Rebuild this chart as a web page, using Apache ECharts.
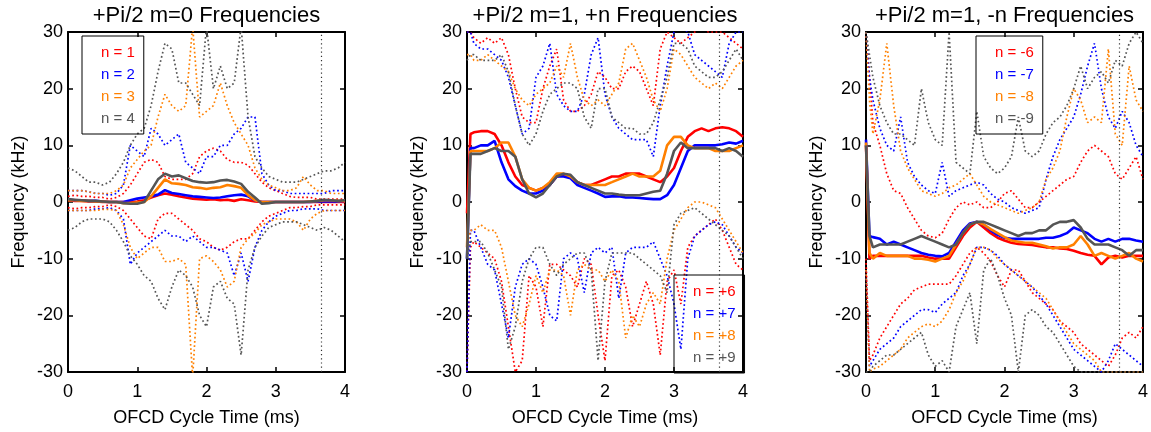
<!DOCTYPE html>
<html><head><meta charset="utf-8">
<script src="https://cdn.jsdelivr.net/npm/echarts@6/dist/echarts.min.js"></script>
<style>html,body{margin:0;padding:0;background:#fff}#c{width:1151px;height:432px}</style>
</head><body><div id="c"></div>
<script>
// ---------- DATA ----------
const timeA = [0,0.1,0.2,0.3,0.4,0.5,0.6,0.7,0.8,0.9,1.0,1.1,1.2,1.3,1.4,1.5,1.6,1.7,1.8,1.9,2.0,2.1,2.2,2.3,2.4,2.5,2.6,2.7,2.8,2.9,3.0,3.1,3.2,3.3,3.4,3.5,3.6,3.7,3.8,3.9,4.0];
const timeB = [0,0.05,0.1,0.2,0.3,0.4,0.5,0.6,0.7,0.8,0.9,1.0,1.1,1.2,1.3,1.4,1.5,1.6,1.7,1.8,1.9,2.0,2.1,2.2,2.3,2.4,2.5,2.6,2.7,2.8,2.9,3.0,3.1,3.2,3.3,3.4,3.5,3.6,3.7,3.8,3.9,4.0];
const markerTime = 3.65;
const xTicks = [0,1,2,3,4];
const yTicks = [-30,-20,-10,0,10,20,30];

const titles = ['+Pi/2 m=0 Frequencies', '+Pi/2 m=1, +n Frequencies', '+Pi/2 m=1, -n Frequencies'];
const names1 = ['n = 1','n = 2','n = 3','n = 4'];
const names2 = ['n = +6','n = +7','n = +8','n = +9'];
const names3 = ['n = -6','n = -7','n = -8','n = -9'];

// Panel 1 (m=0)
const p1_n1 = [0.3,0.2,0.2,0.1,0.1,0,0,0,0,0, 0.1,0.3,0.8,1.2,1.5,1.3,1.0,0.8,0.6,0.5, 0.4,0.5,0.3,0.4,0.2,0.5,0.3,0.1,0,0, 0,0,0,0,0,0,0,0,0,0, 0];
const p1_n2 = [0.4,0.3,0.3,0.2,0.2,0.1,0,0,0,0.3, 0.6,0.8,1.0,1.3,2.1,1.6,1.4,1.2,1.0,0.9, 0.8,0.7,0.8,1.0,1.2,1.3,1.0,0.3,0,0, 0,0,0,0,0,0,0.1,0.1,0.1,0.1, 0.2];
const p1_n3 = [0.3,0.3,0.2,0.2,0.1,0.1,0,0,-0.2,-0.2, -0.1,0,1.0,2.5,4.0,3.3,3.2,3.0,2.6,2.5, 2.3,2.5,2.6,3.0,2.8,2.5,1.2,0.3,0,0, 0,0,0,0,0,0.1,0.2,0.3,0.3,0.2, 0.2];
const p1_n4 = [0.5,0.4,0.3,0.2,0.2,0.1,0,0,-0.2,-0.3, -0.3,0,2.0,4.0,5.0,4.5,4.7,4.2,3.7,3.5, 3.4,3.5,3.8,3.9,3.6,3.2,1.8,0.8,-0.3,-0.2, 0,0,0,0,0,0.1,0.2,0.4,0.3,0.2, 0.3];
const p1_n1_hi = [1,1.2,1,1,0.8,0.8,0.5,0.8,1.5,3, 5,7,7.5,7,4.5,4,4,4,5,8, 9,9.5,9,7.5,7,7,6.5,5,3.5,2.5, 2,1.5,1,0.8,0.8,0.8,0.5,0.5,0.5,0.5, 0.5];
const p1_n1_lo = [-1,-1.2,-1,-1,-0.8,-0.8,-0.5,-0.8,-1.5,-3, -4.5,-6,-6.5,-3,-2,-2,-3,-4,-5,-6.5, -7,-8,-8.5,-8,-7,-6.5,-6.5,-5,-3.5,-2.5, -2,-1.5,-1,-1,-0.8,-0.8,-0.5,-0.5,-0.5,-0.5, -0.5];
const p1_n2_hi = [2,2,2,1.8,1.5,1.5,1.2,1.5,3,10, 9,8,13,12,10,11,12,7,6,5, 8,8,10,10,12,13,15,15,5,3, 2,2,1.5,1.5,1.5,1.5,1.5,1.5,2,2, 2];
const p1_n2_lo = [-1.5,-1.5,-1.5,-1.5,-1.2,-1.2,-1,-1.5,-3,-11, -9,-8,-7,-6,-5,-6,-6,-7,-6,-7, -8,-8,-8.5,-9,-13,-9,-14,-8,-5,-3.5, -2.5,-2,-1.5,-1.5,-1.2,-1.2,-1.2,-1.5,-1.5,-1.5, -1.5];
const p1_n3_hi = [2,2,2,1.8,1.5,1.5,1.5,2,3,6, 7.5,9,10,15,19,17,16,17,31,15, 16,17,21,17,14,12,10,6,4,3, 2.5,2,2,2.5,4.5,3,2,2,1.5,1.5, 1.5];
const p1_n3_lo = [-1.5,-1.5,-1.5,-1.5,-1.5,-1.3,-1.3,-1.5,-4,-8, -10,-9,-8,-8,-10.5,-10.5,-10,-11,-31,-10, -9.5,-10.5,-12,-15,-14,-8,-6.5,-5.5,-4,-3.5, -3,-3,-3,-3.5,-5,-3,-2,-1.5,-1.5,-1.5, -1.5];
const p1_n4_hi = [6,5.5,4.5,3.5,3.5,3,3.5,5,7,10, 12,13,17,23,28,27,21,21,19,17, 31,20,24,20,21,31,15,8,6,4.5, 4,3.5,3.5,3.5,4,4.5,5,5.5,5.5,6, 7];
const p1_n4_lo = [-5,-4.5,-3.5,-3,-3,-3,-3.5,-5,-7,-9.5, -11,-13,-14,-17,-19,-15,-12,-13,-15,-20, -22,-15,-14,-17,-18,-27,-12,-8,-6,-4.5, -4,-3.5,-3.5,-3.5,-4,-4.5,-5,-4.5,-5,-6, -7];

// Panel 2 (m=1, +n)
const p2_n6 = [-2,12,12.3,12.5,12.5,12,10,7,4.5,3, 2.5,2,2.5,3,4.5,4.8,4.5,3.5,3,3, 3.5,4,4.5,4.5,5,5,5,4.5,4,3.5, 4.5,6,9,11.5,12.5,13,12.5,13,13.2,13, 12.5,11.5];
const p2_n7 = [-10,9.5,9.5,10,10,10.8,7,4,2.8,2, 1.5,1.5,2,3,4.5,4.5,4.2,3,2.5,2, 1.5,0.9,1,1,0.8,0.8,0.7,0.6,0.5,0.5, 1.2,3,6,9,10,10,10,10,10.2,10.5, 10.3,10.8];
const p2_n8 = [-8,9,9,9,9,9.5,10.5,10.5,8,4, 2.5,2,2.5,3.5,5,5,4.5,3.5,3,3, 3,3,3.5,4,4.5,5,4.5,4.5,4.5,5.5, 10,11.5,11.5,10,9.5,9.5,9.5,9,9,9, 9.5,10];
const p2_n9 = [-10,8.5,8.5,8.5,9,9.5,9,9,8,4, 1.5,0.8,1.5,3,4.5,5,4.8,3.5,3,2.5, 2,1.5,1.5,1.3,1.2,1.2,1.2,1.5,1.8,2, 5,9,10.5,9.5,9.5,9.5,9.5,9.5,9,9.5, 9,8];
const p2_n6_hi = [30,30,29,28,29,28,29,26,20,15, 14,14,20,24,27,18,16,16,17,19, 23,22,20,20,23,24,23,20,17,27, 30,29,28,29,30,31,30,30,30,29, 28,27];
const p2_n6_lo = [-30,-8,-7,-8,-9,-10,-14,-22,-30,-28, -13,-15,-22,-11,-11,-12,-13,-15,-10,-11, -20,-28,-13,-12,-15,-22,-18,-14,-18,-27, -14,-12,-18,-8,-6,-5,-4,-3,-5,-8, -11,-12];
const p2_n7_hi = [30,30,28,27,27,26,25,22,17,12, 13,22,24,28,19,17,16,16,19,26, 29,19,15,13,12,11,11,11,8,17, 24,30,31,30,26,25,24,23,22,28, 30,30];
const p2_n7_lo = [-30,-5,-5,-8,-11,-12,-18,-24,-15,-11, -10,-11,-15,-20,-21,-10,-9,-10,-16,-9, -8,-9,-8,-17,-9,-8,-8,-8,-7,-10, -13,-18,-26,-10,-6,-5,-4,-3.5,-4,-6, -8,-9];
const p2_n8_hi = [26,26,25,25,26,25,24,23,20,18, 17,19,20,21,24,22,28,22,18,17, 18,17,19,21,27,28,25,22,18,16, 20,27,26,24,22,21,20,21,20,22, 24,25];
const p2_n8_lo = [-8,-5,-5,-4,-5,-5,-8,-14,-20,-22, -18,-13,-16,-12,-12,-13,-20,-12,-11,-12, -12,-14,-12,-14,-24,-20,-22,-18,-16,-18, -10,-5,-3,-1,0,0,-0.5,-1,-3,-5, -7,-9];
const p2_n9_hi = [25,26,26,25,25,25,26,23,17,12, 10,12,16,19,20,21,21,20,15,13, 20,20,15,14,13,13,12,12,14,18, 22,28,28,27,24,23,22,22,23,25, 27,25];
const p2_n9_lo = [-10,-7,-7,-7,-9,-12,-15,-26,-22,-14, -10,-8,-8,-11,-13,-11,-10,-9,-9,-12, -28,-14,-9,-9,-9,-9,-10,-11,-12,-13, -16,-4,-2,-1.5,-1,-2,-3,-4,-5,-6, -8,-10];

// Panel 3 (m=1, -n)
const p3_n6 = [10,-10,-9.5,-9.5,-9.5,-9.5,-9.5,-9.5,-9.5,-9.5, -9.8,-10,-10,-10,-8,-6,-4.5,-3.5,-4.5,-5.5, -6.3,-6.8,-7.2,-7.4,-7.5,-7.6,-7.8,-8,-8,-8.2, -8.3,-8.6,-9,-9.3,-9.5,-11,-9.8,-9.5,-9.8,-9.5, -9.5,-9.5];
const p3_n7 = [11,-6,-6.2,-6.5,-7.5,-7,-7.5,-8,-8.5,-9, -9.3,-9.5,-9.6,-9,-7,-5,-3.8,-3.5,-4,-5, -5.8,-6.3,-6.5,-6.5,-6.5,-6.5,-6.5,-6.3,-6.3,-6, -5.5,-4.5,-5,-5.5,-6.5,-7,-6.5,-7,-6.5,-6.5, -6.8,-7];
const p3_n8 = [10.5,-9,-10,-9,-9.5,-9.5,-9.5,-9.5,-10,-10, -10.2,-10.5,-10,-9.5,-7.5,-5.5,-4,-3.5,-4,-4.8, -5.5,-6.2,-6.8,-7,-7.2,-7.2,-7.5,-7.8,-8.2,-8, -8,-7.5,-6,-7.5,-9.5,-9,-9.5,-10,-9.5,-9, -10,-10.5];
const p3_n9 = [10,-6,-8,-7.5,-7.5,-7.5,-7.5,-7,-6.5,-6, -6.5,-7,-7.5,-8,-7.5,-5.5,-4,-3.5,-3.5,-4, -4.5,-5,-5.5,-6,-5.5,-5.5,-5,-5,-4,-3.5, -3.5,-3.2,-4.5,-6.5,-7.5,-7.5,-7.5,-8,-8.5,-9.5, -8.5,-8.5];
const p3_n6_hi = [30,22,14,10,5,2,1.5,-1,-3,-5, -6,-6.3,-5.5,-3,-1,0,-0.5,0,-1,-1, 0,1.5,2,0.5,-1,-1,0,1,2,3, 4,4.5,7,9,10,9,8,5,4,6, 8,4];
const p3_n6_lo = [-10,-28,-27,-24,-22,-20,-18,-17,-15.5,-15, -14.5,-14.5,-14.5,-14.5,-13,-11,-9,-8,-9,-10.5, -13,-15,-12,-12,-14,-16,-17,-18,-19,-21, -22,-23,-25,-26,-27,-28,-29,-27,-24,-23, -24,-22];
const p3_n7_hi = [30,22,18,13,10,9,15,7,4.5,3, 2,1.5,7,1,2,2.5,3,3.5,3,1.5, 0.5,0,-1,-1.5,-2,-1.5,-1,4,8,11, 13,15,19,24,28,20,15,13,16,14, 10,8];
const p3_n7_lo = [-12,-29,-28,-26,-25,-24,-22,-21,-20,-19, -19,-19.5,-18,-17,-16,-13,-11,-8,-8,-8.5, -9.5,-11,-12,-13,-14,-15,-16.5,-18,-20,-22, -24,-26,-27,-28,-29,-30,-28,-25,-26,-27, -28,-29];
const p3_n8_hi = [30,18,12,18,28,17,9,6,4,2, 1.5,1,1.5,2.5,3,4,5,3,1,0, -0.5,-1,-1.5,-2,-1.5,-1,0,4,6,9, 15,20,18,14,15,14,27,12,10,24, 18,16];
const p3_n8_lo = [-12,-30,-29.5,-29,-28,-27,-26,-24,-23,-22, -21.5,-22,-21,-19,-16,-14,-11,-8,-8,-8.5, -10,-11,-12,-13,-14,-15,-16,-17,-19,-21, -23,-25,-26,-27,-28,-30,-30,-30,-30,-30, -30,-30];
const p3_n9_hi = [30,26,22,17,14,12,12,11,10,20, 14,11,10,30,7,6,5,16,8,6, 5,6,8,15,9,8,9,12,14,15, 17,20,24,20,22,23,21,25,24,28, 30,28];
const p3_n9_lo = [-30,-30,-29,-28,-27,-27,-26,-25,-24,-23, -27,-29,-28,-30,-22,-19,-16,-25,-12,-10, -13,-17,-20,-30,-20,-19,-20,-22,-23,-25, -27,-29,-30,-30,-30,-30,-30,-30,-30,-30, -30,-30];

// ---------- CHART ----------
const FONT = '"Liberation Sans", Arial, Helvetica, sans-serif';
const colors = ['#ff0000', '#0000ff', '#ff8000', '#555555'];
const panels = [
  { time: timeA, names: names1, mean: [p1_n1,p1_n2,p1_n3,p1_n4], hi: [p1_n1_hi,p1_n2_hi,p1_n3_hi,p1_n4_hi], lo: [p1_n1_lo,p1_n2_lo,p1_n3_lo,p1_n4_lo] },
  { time: timeB, names: names2, mean: [p2_n6,p2_n7,p2_n8,p2_n9], hi: [p2_n6_hi,p2_n7_hi,p2_n8_hi,p2_n9_hi], lo: [p2_n6_lo,p2_n7_lo,p2_n8_lo,p2_n9_lo] },
  { time: timeB, names: names3, mean: [p3_n6,p3_n7,p3_n8,p3_n9], hi: [p3_n6_hi,p3_n7_hi,p3_n8_hi,p3_n9_hi], lo: [p3_n6_lo,p3_n7_lo,p3_n8_lo,p3_n9_lo] }
];
const grids = [
  { left: 68, top: 30, width: 277, height: 350 },
  { left: 467, top: 30, width: 276, height: 350 },
  { left: 866, top: 30, width: 277, height: 350 }
];
const legendPos = [{ left: 82, top: 36 }, { left: 674, top: 275 }, { left: 976, top: 36 }];

const xMin = xTicks[0], xMax = xTicks[xTicks.length - 1], xStep = xTicks[1] - xTicks[0];
const yMin = yTicks[0], yMax = yTicks[yTicks.length - 1], yStep = yTicks[1] - yTicks[0];

const axisLine = { show: true, onZero: false, lineStyle: { color: '#000', width: 2 } };
const axisTick = { show: true, inside: true, length: 5, lineStyle: { color: '#000', width: 1.5 } };
const labelStyle = { color: '#000', fontSize: 18, fontFamily: FONT };

const xAxis = [], yAxis = [], series = [], legend = [];
const zip = (t, v) => t.map((x, i) => [x, v[i]]);

panels.forEach((p, k) => {
  xAxis.push({
    type: 'value', gridIndex: k, position: 'bottom', min: xMin, max: xMax, interval: xStep,
    axisLine, axisTick, splitLine: { show: false },
    axisLabel: Object.assign({ margin: 11 }, labelStyle),
    name: 'OFCD Cycle Time (ms)', nameLocation: 'middle', nameGap: 37,
    nameTextStyle: { color: '#000', fontSize: 18, fontFamily: FONT }
  });
  xAxis.push({
    type: 'value', gridIndex: k, position: 'top', min: xMin, max: xMax, interval: xStep,
    axisLine, axisTick, splitLine: { show: false }, axisLabel: { show: false },
    name: titles[k], nameLocation: 'middle', nameGap: 5,
    nameTextStyle: { color: '#000', fontSize: 22, fontFamily: FONT }
  });
  yAxis.push({
    type: 'value', gridIndex: k, position: 'left', min: yMin, max: yMax, interval: yStep,
    axisLine, axisTick, splitLine: { show: false },
    axisLabel: Object.assign({ margin: 5 }, labelStyle),
    name: 'Frequency (kHz)', nameLocation: 'middle', nameGap: 40,
    nameTextStyle: { color: '#000', fontSize: 18, fontFamily: FONT }
  });
  yAxis.push({
    type: 'value', gridIndex: k, position: 'right', min: yMin, max: yMax, interval: yStep,
    axisLine, axisTick, splitLine: { show: false }, axisLabel: { show: false }
  });

  const xi = 2 * k, yi = 2 * k;
  for (let s = 0; s < 4; s++) {
    ['hi', 'lo'].forEach(b => {
      series.push({
        type: 'line', name: p.names[s] + ' ' + b, xAxisIndex: xi, yAxisIndex: yi,
        data: zip(p.time, p[b][s]), symbol: 'none', silent: true, z: 2, clip: true,
        lineStyle: { color: colors[s], width: 1.7, type: [1.7, 2.6] }
      });
    });
  }
  series.push({
    type: 'line', name: 'marker' + k, xAxisIndex: xi, yAxisIndex: yi, data: [], silent: true,
    markLine: {
      symbol: 'none', silent: true, label: { show: false }, animation: false,
      lineStyle: { color: '#333', width: 1.2, type: [1.2, 3] },
      data: [{ xAxis: markerTime }]
    }
  });
  for (let s = 0; s < 4; s++) {
    series.push({
      type: 'line', name: p.names[s], xAxisIndex: xi, yAxisIndex: yi,
      data: zip(p.time, p.mean[s]), symbol: 'none', z: 3, clip: true,
      itemStyle: { color: colors[s] },
      lineStyle: { color: colors[s], width: 2.6 }
    });
  }
  legend.push({
    left: legendPos[k].left, top: legendPos[k].top, orient: 'vertical',
    selectedMode: false, icon: 'rect', itemWidth: 10, itemHeight: 14, itemGap: 7,
    padding: [9, 9, 8, 4], borderColor: '#000', borderWidth: 1, backgroundColor: 'rgba(0,0,0,0)',
    itemStyle: { color: 'rgba(0,0,0,0)', borderWidth: 0, opacity: 0 },
    textStyle: { fontSize: 15, fontFamily: FONT },
    data: p.names.map((n, s) => ({ name: n, textStyle: { color: colors[s], fontSize: 15, fontFamily: FONT } }))
  });
});

const chart = echarts.init(document.getElementById('c'), null, { renderer: 'canvas' });
chart.setOption({
  animation: false,
  backgroundColor: '#fff',
  grid: grids,
  xAxis, yAxis, legend, series
});
</script>
</body></html>
